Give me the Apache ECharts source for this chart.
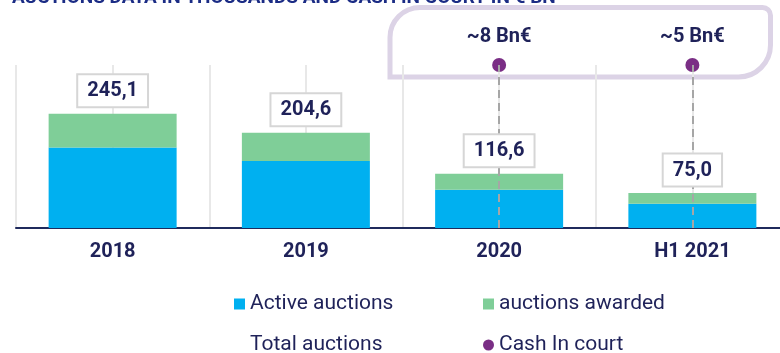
<!DOCTYPE html>
<html>
<head>
<meta charset="utf-8">
<script src="https://cdn.jsdelivr.net/npm/echarts@6/dist/echarts.min.js"></script>
<style>
  html, body { margin: 0; padding: 0; background: #fff; }
  #chart { width: 780px; height: 353px; }
</style>
</head>
<body>
<div id="chart"></div>
<script>
// Auction activity (thousands) and cash held in court (bn €)
const categories = ['2018', '2019', '2020', 'H1 2021'];
const activeAuctions = [173.0, 143.8, 81.9, 52.0];
const auctionsAwarded = [72.1, 60.8, 34.7, 23.0];
const totalAuctions = [245.1, 204.6, 116.6, 75.0];
const cashInCourt = [null, null, 8, 5];

const NAVY = '#1f2259';
const FONT = 'Roboto';

const fmt = v => v.toFixed(1).replace('.', ',');

const cashPoints = [];
const cashLines = [];
cashInCourt.forEach((v, i) => {
  if (v == null) return;
  cashPoints.push({ value: [categories[i], 'cash'], cash: v });
  cashLines.push({ xAxis: categories[i] });
});

const chart = echarts.init(document.getElementById('chart'), null, { renderer: 'canvas' });

const legendText = { fontSize: 21, color: NAVY, fontFamily: FONT, lineHeight: 24 };

chart.setOption({
  animation: false,
  textStyle: { fontFamily: FONT },
  title: {
    text: 'AUCTIONS DATA IN THOUSANDS AND CASH IN COURT IN € BN',
    left: 12,
    top: -11,
    padding: 0,
    textStyle: { fontFamily: FONT, fontSize: 19, fontWeight: 'bold', color: '#1b2c85', lineHeight: 19 }
  },
  grid: { left: 16, width: 773, top: 65, bottom: 125, containLabel: false, outerBoundsMode: 'none' },
  xAxis: [
    {
      type: 'category',
      data: categories,
      axisLine: { show: true, lineStyle: { color: '#1f2a5c', width: 2 } },
      axisTick: { show: false },
      splitLine: { show: false },
      axisLabel: { margin: 14, fontSize: 20, fontWeight: 'bold', color: NAVY, fontFamily: FONT }
    },
    {
      type: 'value',
      min: 0,
      max: 8,
      interval: 1,
      position: 'top',
      axisLine: { show: false },
      axisTick: { show: false },
      axisLabel: { show: false },
      splitLine: { show: true, lineStyle: { color: '#e8e8e8', width: 2 } }
    }
  ],
  yAxis: [
    { type: 'value', min: 0, max: 350, show: false, splitLine: { show: false } },
    { type: 'category', data: ['', 'cash'], boundaryGap: false, show: false }
  ],
  legend: [
    {
      orient: 'vertical',
      left: 234,
      top: 292,
      height: 80,
      padding: 0,
      itemWidth: 11,
      itemHeight: 11,
      itemGap: 17,
      selectedMode: false,
      textStyle: legendText,
      data: [
        { name: 'Active auctions', icon: 'rect' },
        { name: 'Total auctions', icon: 'rect', itemStyle: { color: 'rgba(0,0,0,0)' } }
      ]
    },
    {
      orient: 'vertical',
      left: 483,
      top: 292,
      height: 80,
      padding: 0,
      itemWidth: 11,
      itemHeight: 11,
      itemGap: 17,
      selectedMode: false,
      textStyle: legendText,
      data: [
        { name: 'auctions awarded', icon: 'rect' },
        { name: 'Cash In court', icon: 'circle' }
      ]
    }
  ],
  graphic: [
    {
      type: 'rect',
      z: 0,
      silent: true,
      shape: { x: 390, y: 7.5, width: 380.5, height: 69.5, r: [30, 8, 32, 0] },
      style: { fill: 'none', stroke: '#dcd3e6', lineWidth: 5 }
    }
  ],
  series: [
    {
      name: 'Active auctions',
      type: 'bar',
      stack: 'auctions',
      barWidth: 128,
      itemStyle: { color: '#00b0f0' },
      data: activeAuctions
    },
    {
      name: 'auctions awarded',
      type: 'bar',
      stack: 'auctions',
      barWidth: 128,
      itemStyle: { color: '#7fce98' },
      data: auctionsAwarded
    },
    {
      name: 'Cash In court',
      type: 'scatter',
      yAxisIndex: 1,
      z: 3,
      symbol: 'circle',
      symbolSize: 14,
      itemStyle: { color: '#7a2e85', opacity: 1 },
      label: {
        show: true,
        position: 'top',
        distance: 11,
        fontSize: 20,
        fontWeight: 'bold',
        color: NAVY,
        fontFamily: FONT,
        formatter: p => '~' + p.data.cash + ' Bn€'
      },
      markLine: {
        silent: true,
        symbol: ['none', 'none'],
        label: { show: false },
        lineStyle: { color: '#a6a6a6', type: [8, 5], width: 2 },
        data: cashLines
      },
      data: cashPoints
    },
    {
      name: 'Total auctions',
      type: 'line',
      z: 5,
      symbol: 'circle',
      symbolSize: 1,
      itemStyle: { color: 'rgba(0,0,0,0)' },
      lineStyle: { opacity: 0 },
      label: {
        show: true,
        position: 'top',
        distance: 7,
        fontSize: 20,
        fontWeight: 'bold',
        color: NAVY,
        fontFamily: FONT,
        backgroundColor: '#ffffff',
        borderColor: '#d6d6d6',
        borderWidth: 2,
        padding: [5, 9, 4, 9],
        lineHeight: 22,
        formatter: p => fmt(p.value)
      },
      data: totalAuctions
    }
  ]
});
</script>
</body>
</html>
